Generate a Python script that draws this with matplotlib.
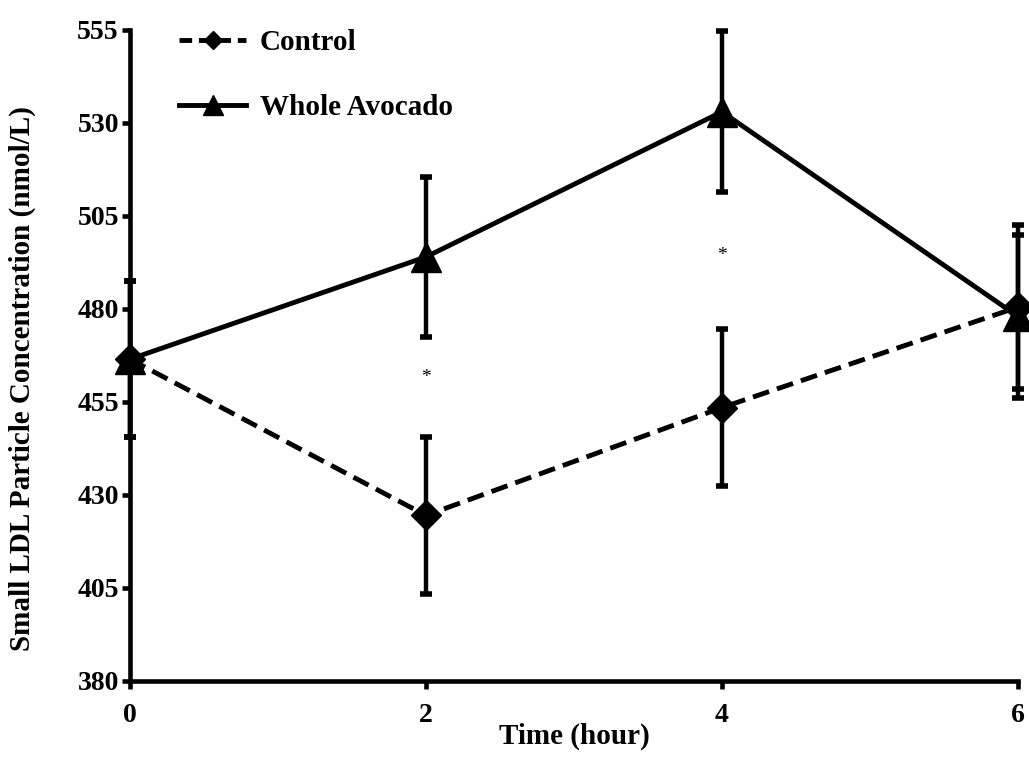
import numpy as np
import matplotlib
matplotlib.use('Agg')
import matplotlib.pyplot as plt
from matplotlib.lines import Line2D

hours = [0, 2, 4, 6]
control = [466.5, 424.5, 453.5, 480.5]
control_err = [21.0, 21.0, 21.0, 22.0]
avocado = [466.5, 494.0, 533.0, 478.0]
avocado_err = [21.0, 21.6, 21.6, 22.0]
star_x = [2, 4]
star_y = [461.5, 494.5]
yticks = [380, 405, 430, 455, 480, 505, 530, 555]

plt.rcParams['font.family'] = ['Liberation Serif', 'DejaVu Serif']
plt.rcParams['font.weight'] = 'bold'

fig = plt.figure(figsize=(10.29, 7.59), dpi=100)
ax = fig.add_axes([0.1263, 0.1028, 0.8630, 0.8577])

dash = (0, (3.5, 1.7))
ax.errorbar(hours, control, yerr=control_err, color='black', lw=3.5, ls=dash,
            marker='D', markersize=15, capsize=4.5, capthick=4, elinewidth=3.2,
            clip_on=False, zorder=3)
ax.errorbar(hours, avocado, yerr=avocado_err, color='black', lw=3.5, ls='-',
            marker='^', markersize=22, capsize=4.5, capthick=4, elinewidth=3.2,
            clip_on=False, zorder=3)

for x, y in zip(star_x, star_y):
    ax.text(x, y, '*', ha='center', va='center', fontsize=14, fontweight='normal')

ax.set_xlim(0, 6)
ax.set_ylim(380, 555)
ax.set_xticks(hours)
ax.set_yticks(yticks)
ax.tick_params(axis='both', direction='out', width=3.3, length=6, labelsize=20)
ax.tick_params(axis='x', pad=10)
ax.tick_params(axis='y', pad=2)
for s in ['top', 'right']:
    ax.spines[s].set_visible(False)
for s in ['left', 'bottom']:
    ax.spines[s].set_linewidth(3.3)

ax.set_xlabel('Time (hour)', fontsize=21, fontweight='bold')
ax.xaxis.set_label_coords(0.5, -0.064)
ax.set_ylabel('Small LDL Particle Concentration (nmol/L)', fontsize=21, fontweight='bold')
ax.yaxis.set_label_coords(-0.106, 0.464)

handles = [
    Line2D([], [], color='black', lw=3.5, ls=(0, (2.6, 1.4)), marker='D', markersize=9),
    Line2D([], [], color='black', lw=3.5, ls='-', marker='^', markersize=14),
]
ax.legend(handles, ['Control', 'Whole Avocado'], loc='upper left',
          bbox_to_anchor=(0.026, 1.042), frameon=False, fontsize=21,
          handlelength=2.3, labelspacing=1.3, handletextpad=0.45)

fig.savefig('out.png', dpi=100)
